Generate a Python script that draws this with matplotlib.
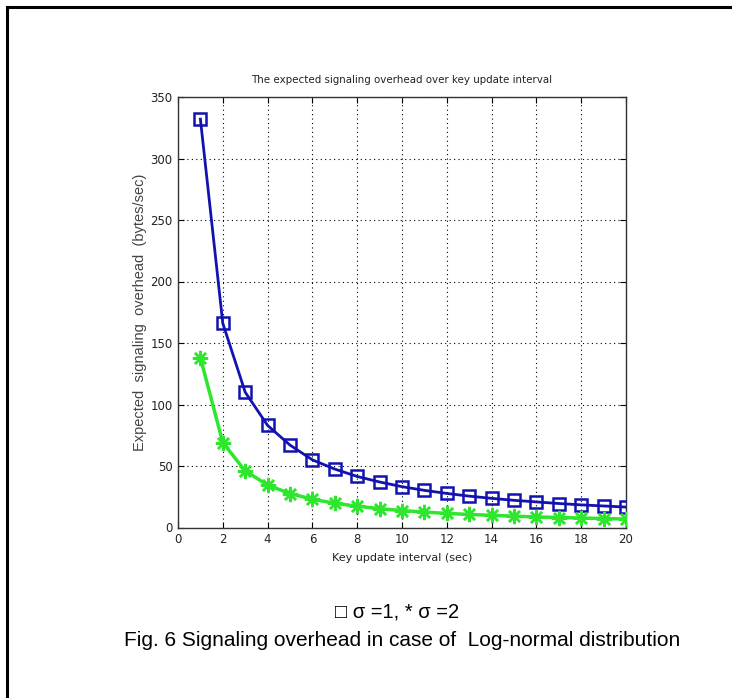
#!/usr/bin/env python3
"""
Fig. 6: Signaling overhead in case of Log-normal distribution (MATLAB-style look)
"""

import matplotlib
matplotlib.use('Agg')
import matplotlib.pyplot as plt
from matplotlib.patches import Rectangle

# data
interval = list(range(1, 21))
overhead_sigma1 = [332, 166, 110, 83, 67, 55, 47.5, 41.5, 37, 33.2,
                   30.2, 27.7, 25.5, 23.7, 22.1, 20.8, 19.5, 18.4, 17.5, 16.6]
overhead_sigma2 = [138, 69, 46, 34.5, 27.6, 23, 19.7, 17.3, 15.3, 13.8,
                   12.5, 11.5, 10.6, 9.9, 9.2, 8.6, 8.1, 7.7, 7.3, 6.9]
xticks = list(range(0, 21, 2))
yticks = list(range(0, 351, 50))

COLORS = {
    'blue': '#1212b0',
    'green': '#2ee62e',
    'text': '#222222',
}

NARROW = ['DejaVu Sans']
CAPTION = ['Liberation Sans', 'DejaVu Sans']

fig = plt.figure(figsize=(7.32, 6.98), dpi=100)
fig.patch.set_facecolor('white')

# page border (only left and top edges are inside the picture)
fig.add_artist(Rectangle((7 / 732, -0.1), 1.2, 1 - 7 / 698 + 0.1,
                         transform=fig.transFigure, fill=False,
                         edgecolor='black', linewidth=2.2))

ax = fig.add_axes([178 / 732, 1 - 527.5 / 698, 448 / 732, 430.5 / 698])

ax.plot(interval, overhead_sigma1, color=COLORS['blue'], linewidth=2,
        marker='s', markersize=8.5, markerfacecolor='none',
        markeredgecolor=COLORS['blue'], markeredgewidth=1.8, zorder=3)
ax.plot(interval, overhead_sigma2, color=COLORS['green'], linewidth=2.5,
        marker=(8, 2, 0), markersize=11, markeredgecolor=COLORS['green'],
        markeredgewidth=1.8, zorder=3)

ax.set_xlim(0, 20)
ax.set_ylim(0, 350)
ax.set_xticks(xticks)
ax.set_yticks(yticks)
ax.grid(True, color='black', linestyle=(0, (1, 3)), linewidth=0.8)
ax.tick_params(direction='in', length=4, color='black', labelsize=8.5,
               pad=4, top=True, right=True)
for lab in ax.get_xticklabels() + ax.get_yticklabels():
    lab.set_family(NARROW)
    lab.set_color(COLORS['text'])
for sp in ax.spines.values():
    sp.set_color('#333333')
    sp.set_linewidth(1)

ax.set_title('The expected signaling overhead over key update interval',
             fontsize=7.4, family=NARROW, color=COLORS['text'], pad=10)
ax.set_xlabel('Key update interval (sec)', fontsize=8, family=NARROW,
              color=COLORS['text'], labelpad=5)
ax.set_ylabel('Expected  signaling  overhead  (bytes/sec)', fontsize=10.5,
              family=CAPTION, color='#444444', labelpad=2)

# caption lines
fig.text(397 / 732, 1 - 612 / 698, '\u25a1 \u03c3 =1, * \u03c3 =2',
         ha='center', va='center', fontsize=14.5, family=CAPTION)
fig.text(402 / 732, 1 - 640 / 698,
         'Fig. 6 Signaling overhead in case of  Log-normal distribution',
         ha='center', va='center', fontsize=15, family=CAPTION)

fig.savefig('out.png', dpi=100, facecolor='white')
plt.close(fig)
